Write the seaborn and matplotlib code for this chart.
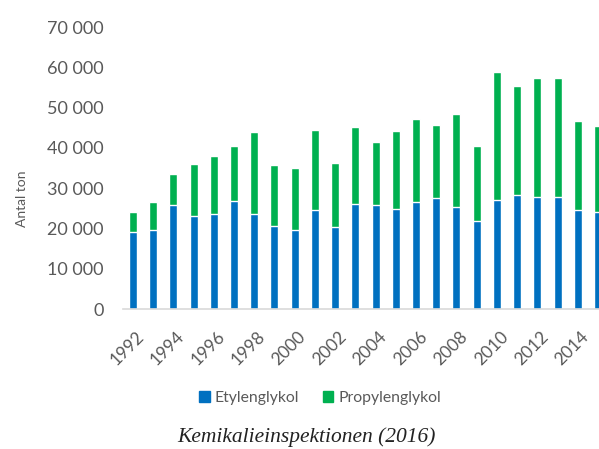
import numpy as np
import pandas as pd
import matplotlib
matplotlib.use("Agg")
import matplotlib.pyplot as plt
import matplotlib.transforms as mtransforms
import seaborn as sns
from matplotlib.patches import Patch

years = list(range(1992, 2016))
etylenglykol = [19000, 19500, 25800, 23000, 23700, 26800, 23700, 20700, 19700, 24700,
                20400, 26100, 25700, 24900, 26600, 27600, 25400, 21800, 27100, 28400,
                27900, 27800, 24700, 24000]
propylenglykol = [5200, 7100, 7800, 13100, 14300, 13600, 20200, 15000, 15300, 19700,
                  15800, 19100, 15700, 19300, 20500, 18200, 23000, 18700, 31700, 27000,
                  29500, 29600, 22000, 21500]
y_ticks = [0, 10000, 20000, 30000, 40000, 50000, 60000, 70000]

df = pd.DataFrame({"year": years, "ety": etylenglykol, "prop": propylenglykol})
df["total"] = df["ety"] + df["prop"]

sns.set_style("white")
plt.rcParams['font.family'] = ['Lato', 'DejaVu Sans']

blue = '#0070C0'
green = '#00B050'
grey = '#595959'

fig = plt.figure(figsize=(5.99, 4.49), dpi=100)
ax = fig.add_axes([0.2053, 0.3118, 0.7947, 0.628])

# stacked: total in green, etylenglykol in blue on top
sns.barplot(data=df, x="year", y="total", color=green, width=0.4,
            saturation=1, ax=ax)
sns.barplot(data=df, x="year", y="ety", color=blue, width=0.4,
            saturation=1, ax=ax)

ax.set_xlim(-0.49, 23.05)
ax.set_ylim(0, 70000)
ax.set_yticks(y_ticks)
ax.set_yticklabels([f"{v:,}".replace(",", " ") for v in y_ticks],
                   fontsize=13, color=grey)
ax.set_xticks(range(0, len(years), 2))
ax.set_xticklabels([str(y) for y in years[::2]], rotation=45, ha='right',
                   rotation_mode='anchor', fontsize=12.5, color=grey)
ax.tick_params(axis='both', length=0)
ax.tick_params(axis='y', pad=14)
ax.tick_params(axis='x', pad=14)
shift = mtransforms.ScaledTranslation(3 / 100, 0, fig.dpi_scale_trans)
for lbl in ax.get_xticklabels():
    lbl.set_transform(lbl.get_transform() + shift)
ax.set_xlabel("")
ax.set_ylabel("Antal ton", fontsize=10, color=grey)
ax.yaxis.set_label_coords(-0.20, 0.39)

for s in ['top', 'right', 'left']:
    ax.spines[s].set_visible(False)
ax.spines['bottom'].set_color('#D9D9D9')
ax.spines['bottom'].set_linewidth(1.2)

handles = [Patch(color=blue, label='Etylenglykol'),
           Patch(color=green, label='Propylenglykol')]
fig.legend(handles=handles, loc='center', bbox_to_anchor=(0.534, 0.114),
           ncol=2, frameon=False, fontsize=11.3, handlelength=0.7,
           handleheight=0.7, handletextpad=0.3, columnspacing=1.5,
           labelcolor=grey)

fig.text(0.512, 0.027, "Kemikalieinspektionen (2016)", ha='center', va='center',
         fontsize=15.5, style='italic', family=['Liberation Serif'], color='#222222')

fig.savefig("out.png", dpi=100)
